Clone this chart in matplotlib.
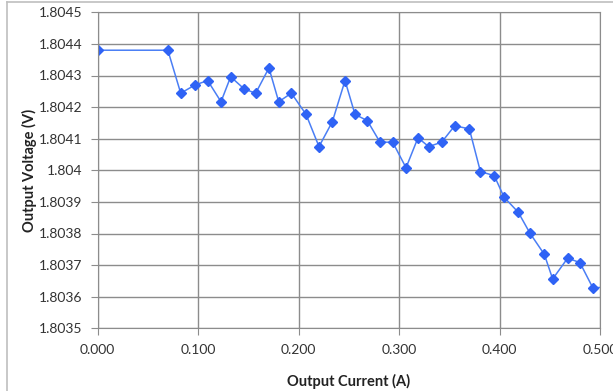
import numpy as np
import matplotlib.pyplot as plt
from matplotlib.lines import Line2D

# Output current (A) and output voltage (V)
current = [0.000, 0.070, 0.0828, 0.097, 0.1096, 0.1229, 0.1325, 0.1461, 0.1574,
           0.1706, 0.1803, 0.1929, 0.2075, 0.2204, 0.2337, 0.2463, 0.2562, 0.2685,
           0.2811, 0.2937, 0.3070, 0.3189, 0.3295, 0.3425, 0.3554, 0.3700, 0.3810,
           0.3948, 0.4045, 0.4187, 0.4303, 0.4446, 0.4529, 0.4678, 0.4800, 0.4927,
           0.5060]
voltage = [1.80438, 1.80438, 1.804244, 1.80427, 1.804284, 1.804217, 1.804296,
           1.804257, 1.804244, 1.804324, 1.804217, 1.804244, 1.804177, 1.804075,
           1.804154, 1.804284, 1.804177, 1.804157, 1.804089, 1.804089, 1.804008,
           1.804103, 1.804075, 1.804089, 1.804141, 1.804131, 1.803996, 1.803983,
           1.803915, 1.803867, 1.803801, 1.803734, 1.803656, 1.803722, 1.803708,
           1.803629, 1.803629]

x_ticks = [0.0, 0.1, 0.2, 0.3, 0.4, 0.5]
x_labels = ['0.000', '0.100', '0.200', '0.300', '0.400', '0.500']
y_ticks = [1.8035, 1.8036, 1.8037, 1.8038, 1.8039, 1.804,
           1.8041, 1.8042, 1.8043, 1.8044, 1.8045]
y_labels = ['1.8035', '1.8036', '1.8037', '1.8038', '1.8039', '1.804',
            '1.8041', '1.8042', '1.8043', '1.8044', '1.8045']

plt.rcParams['font.family'] = ['Lato', 'DejaVu Sans']

fig = plt.figure(figsize=(6.13, 3.91), dpi=100)
ax = fig.add_axes([97.5 / 613, 1 - 328.3 / 391, (600 - 97.5) / 613, (328.3 - 12.3) / 391])

ax.plot(current, voltage, color='#4a7ef5', linewidth=1.1, marker='D',
        markersize=5, markerfacecolor='#2f63f5', markeredgecolor='#2f63f5',
        clip_on=True)

ax.set_xlim(0, 0.5)
ax.set_ylim(1.8035, 1.8045)
ax.set_xticks(x_ticks)
ax.set_xticklabels(x_labels)
ax.set_yticks(y_ticks)
ax.set_yticklabels(y_labels)

ax.grid(True, color='#8c8c8c', linewidth=1.0)
ax.set_axisbelow(True)
for s in ax.spines.values():
    s.set_color('#8c8c8c')
ax.tick_params(axis='both', colors='#8c8c8c', labelcolor='#333333',
               labelsize=10, length=5, direction='out')
ax.tick_params(axis='x', pad=6)
ax.tick_params(axis='y', pad=6)

ax.set_xlabel('Output Current (A)', fontsize=10.5, fontweight='bold',
              color='#222222', labelpad=13)
ax.set_ylabel('Output Voltage (V)', fontsize=10.5, fontweight='bold',
              color='#222222', labelpad=1)

# outer chart frame (left and top edges visible in the crop)
fig.add_artist(Line2D([7 / 613, 7 / 613], [0, 1 - 2 / 391], color='#bfbfbf', linewidth=1.2))
fig.add_artist(Line2D([7 / 613, 1], [1 - 2 / 391, 1 - 2 / 391], color='#bfbfbf', linewidth=1.2))

fig.savefig('out.png', dpi=100)
